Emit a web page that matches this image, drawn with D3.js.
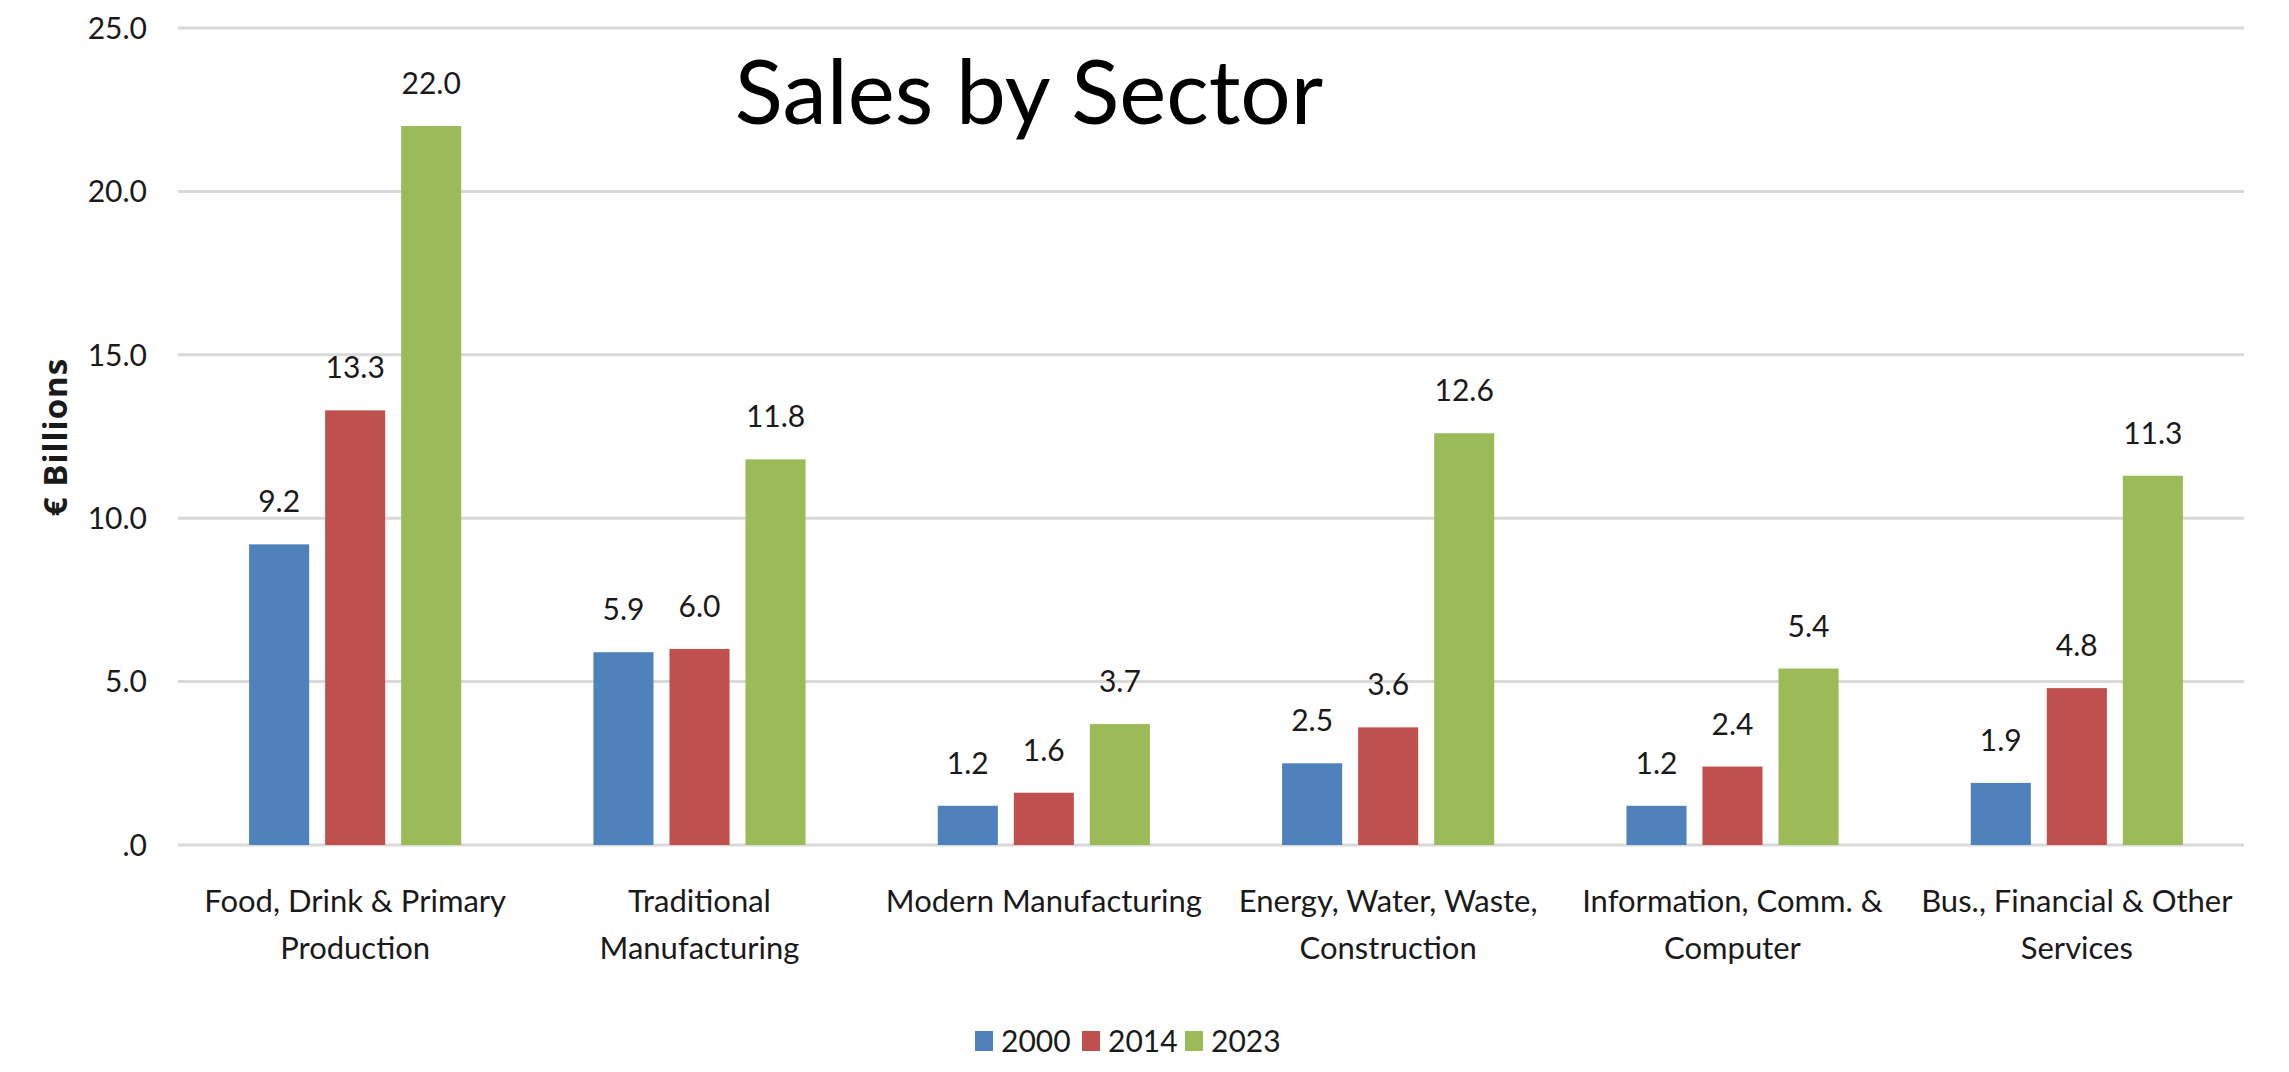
<!DOCTYPE html>
<html>
<head>
<meta charset="utf-8">
<script src="https://cdn.jsdelivr.net/npm/d3@7"></script>
<style>
  body { margin: 0; background: #fff; }
  text { font-family: Lato, "Liberation Sans", sans-serif; fill: #1a1a1a; }
</style>
</head>
<body>
<div id="chart"></div>
<script>
// Chart data
const sectors = [
  ["Food, Drink & Primary", "Production"],
  ["Traditional", "Manufacturing"],
  ["Modern Manufacturing"],
  ["Energy, Water, Waste,", "Construction"],
  ["Information, Comm. &", "Computer"],
  ["Bus., Financial & Other", "Services"]
];
const years = ["2000", "2014", "2023"];
const values2000 = [9.2, 5.9, 1.2, 2.5, 1.2, 1.9];
const values2014 = [13.3, 6.0, 1.6, 3.6, 2.4, 4.8];
const values2023 = [22.0, 11.8, 3.7, 12.6, 5.4, 11.3];
const yTicks = [0, 5, 10, 15, 20, 25];
const colors = ["#4F81BD", "#C0504D", "#9BBB59"];

const width = 2289, height = 1072;
const margin = { top: 28, right: 45, bottom: 227, left: 178 };

const series = [values2000, values2014, values2023];
const rows = sectors.map((s, i) => ({ idx: i, vals: series.map(v => v[i]) }));

const svg = d3.select("#chart").append("svg")
  .attr("width", width)
  .attr("height", height);

// Scales
const x0 = d3.scaleBand()
  .domain(d3.range(sectors.length))
  .range([margin.left + 5, width - margin.right + 5])
  .paddingInner(0.384)
  .paddingOuter(0.192);

const x1 = d3.scaleBand()
  .domain(d3.range(years.length))
  .range([0, x0.bandwidth()])
  .paddingInner(0.21)
  .paddingOuter(0);

const y = d3.scaleLinear()
  .domain([0, 25])
  .range([height - margin.bottom, margin.top]);

const fmt = v => d3.format(".1f")(v).replace(/^0\./, ".");

// Gridlines
svg.append("g")
  .selectAll("line")
  .data(yTicks)
  .enter().append("line")
  .attr("x1", margin.left)
  .attr("x2", width - margin.right)
  .attr("y1", d => y(d))
  .attr("y2", d => y(d))
  .attr("stroke", "#d9d9d9")
  .attr("stroke-width", 3);

// Y tick labels
svg.append("g")
  .selectAll("text")
  .data(yTicks)
  .enter().append("text")
  .attr("x", margin.left - 31)
  .attr("y", d => y(d))
  .attr("dy", "0.36em")
  .attr("text-anchor", "end")
  .style("font-size", "30px")
  .text(fmt);

// Y axis title
svg.append("text")
  .attr("transform", `translate(55, 437) rotate(-90)`)
  .attr("text-anchor", "middle")
  .attr("dy", "0.36em")
  .style("font-family", "'Open Sans', sans-serif")
  .style("font-weight", "700")
  .style("font-size", "33px")
  .style("letter-spacing", "1px")
  .text("€ Billions");

// Bars
const group = svg.append("g")
  .selectAll("g")
  .data(rows)
  .enter().append("g")
  .attr("transform", d => `translate(${x0(d.idx)},0)`);

group.selectAll("rect")
  .data(d => d.vals)
  .enter().append("rect")
  .attr("x", (d, i) => x1(i))
  .attr("y", d => y(d))
  .attr("width", x1.bandwidth())
  .attr("height", d => y(0) - y(d))
  .attr("fill", (d, i) => colors[i]);

// Value labels
group.selectAll("text")
  .data(d => d.vals)
  .enter().append("text")
  .attr("x", (d, i) => x1(i) + x1.bandwidth() / 2)
  .attr("y", d => y(d) - 32)
  .attr("text-anchor", "middle")
  .style("font-size", "30px")
  .text(d => d.toFixed(1));

// Category labels
const catLabel = svg.append("g")
  .selectAll("text")
  .data(sectors)
  .enter().append("text")
  .attr("text-anchor", "middle")
  .style("font-size", "31px");

catLabel.selectAll("tspan")
  .data((d, i) => d.map(line => ({ line, i })))
  .enter().append("tspan")
  .attr("x", d => x0(d.i) + x0.bandwidth() / 2)
  .attr("y", (d, j) => 912 + j * 47)
  .text(d => d.line);

// Title
svg.append("text")
  .attr("x", 1029)
  .attr("y", 124)
  .attr("text-anchor", "middle")
  .style("font-size", "89px")
  .style("fill", "#000")
  .text("Sales by Sector");

// Legend
const legendX = [975, 1082, 1185];
const legend = svg.append("g")
  .selectAll("g")
  .data(years)
  .enter().append("g")
  .attr("transform", (d, i) => `translate(${legendX[i]}, 1041)`);

legend.append("rect")
  .attr("x", 0)
  .attr("y", -10)
  .attr("width", 18)
  .attr("height", 20)
  .attr("fill", (d, i) => colors[i]);

legend.append("text")
  .attr("x", 26)
  .attr("y", 0)
  .attr("dy", "0.36em")
  .style("font-size", "30px")
  .text(d => d);
</script>
</body>
</html>
